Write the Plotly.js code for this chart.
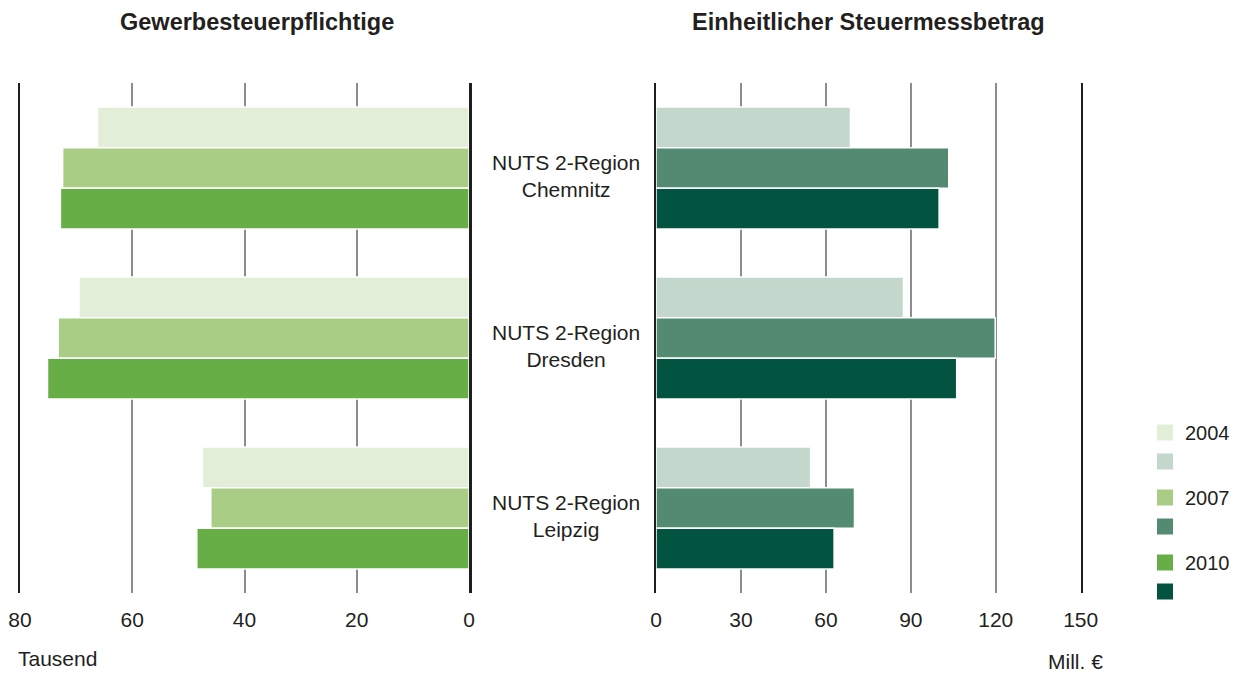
<!DOCTYPE html>
<html>
<head>
<meta charset="utf-8">
<script src="https://cdn.plot.ly/plotly-3.0.1.min.js"></script>
<style>
  html, body { margin: 0; padding: 0; background: #ffffff; }
  #chart { width: 1241px; height: 673px; }
</style>
</head>
<body>
<div id="chart"></div>
<script>
// ---- data ----
const regions = ['NUTS 2-Region Chemnitz', 'NUTS 2-Region Dresden', 'NUTS 2-Region Leipzig'];
const years = ['2004', '2007', '2010'];

// Gewerbesteuerpflichtige (Tausend)
const gewerbe2004 = [66.2, 69.5, 47.5];
const gewerbe2007 = [72.4, 73.2, 46.0];
const gewerbe2010 = [72.8, 75.1, 48.5];

// Einheitlicher Steuermessbetrag (Mill. €)
const mess2004 = [68.7, 87.4, 54.6];
const mess2007 = [103.4, 119.8, 70.1];
const mess2010 = [100.0, 106.2, 62.9];

const leftTicks = [80, 60, 40, 20, 0];
const rightTicks = [0, 30, 60, 90, 120, 150];

const leftTitle = 'Gewerbesteuerpflichtige';
const rightTitle = 'Einheitlicher Steuermessbetrag';
const leftUnit = 'Tausend';
const rightUnit = 'Mill. €';

// ---- styles ----
const greenColors = ['#e2eed8', '#a9cd84', '#67ae46'];
const tealColors = ['#c3d7cc', '#528b72', '#025441'];
const FONT = 'Liberation Sans, Arial, Helvetica, sans-serif';
const TXT = '#231f20';

const leftSeries = [gewerbe2004, gewerbe2007, gewerbe2010];
const rightSeries = [mess2004, mess2007, mess2010];

const traces = [];
years.forEach((yr, i) => {
  traces.push({
    type: 'bar', orientation: 'h', name: yr,
    x: leftSeries[i], y: regions,
    xaxis: 'x', yaxis: 'y',
    marker: { color: greenColors[i], line: { color: '#ffffff', width: 1.5 } },
    showlegend: false, hoverinfo: 'x+y'
  });
});
years.forEach((yr, i) => {
  traces.push({
    type: 'bar', orientation: 'h', name: yr,
    x: rightSeries[i], y: regions,
    xaxis: 'x2', yaxis: 'y2',
    marker: { color: tealColors[i], line: { color: '#ffffff', width: 1.5 } },
    showlegend: false, hoverinfo: 'x+y'
  });
});
// legend entries (no data of their own)
years.forEach((yr, i) => {
  traces.push({
    type: 'scatter', mode: 'markers', name: yr, legendgroup: yr,
    x: [null], y: [null], xaxis: 'x2', yaxis: 'y2',
    marker: { symbol: 'square', size: 17, color: greenColors[i], line: { width: 0 } },
    showlegend: true, hoverinfo: 'skip'
  });
  traces.push({
    type: 'scatter', mode: 'markers', name: ' ', legendgroup: yr,
    x: [null], y: [null], xaxis: 'x2', yaxis: 'y2',
    marker: { symbol: 'square', size: 17, color: tealColors[i], line: { width: 0 } },
    showlegend: true, hoverinfo: 'skip'
  });
});

const W = 1241, H = 673;
const px = v => v / W;
const py = v => 1 - v / H;

const yDomain = [py(593), py(83)];

const xCommon = {
  showgrid: true, gridcolor: '#8c8c8c', gridwidth: 2,
  zeroline: false, showline: false,
  ticks: 'outside', ticklen: 8, tickcolor: 'rgba(0,0,0,0)',
  tickfont: { family: FONT, size: 21, color: TXT },
  fixedrange: true, automargin: false
};
const yCommon = {
  type: 'category', range: [2.5, -0.5], domain: yDomain,
  showgrid: false, zeroline: false, showticklabels: false,
  showline: true, mirror: true, linecolor: '#1e1e1e', linewidth: 2.5,
  ticks: '', fixedrange: true, automargin: false
};

const annotations = [
  { text: '<b>' + leftTitle + '</b>', x: px(256.7), y: py(22), xref: 'paper', yref: 'paper',
    xanchor: 'center', yanchor: 'middle', showarrow: false, font: { family: FONT, size: 23.5, color: TXT } },
  { text: '<b>' + rightTitle + '</b>', x: px(868.3), y: py(22), xref: 'paper', yref: 'paper',
    xanchor: 'center', yanchor: 'middle', showarrow: false, font: { family: FONT, size: 23.5, color: TXT } },
  { text: leftUnit, x: px(16), y: py(658), xref: 'paper', yref: 'paper',
    xanchor: 'left', yanchor: 'middle', showarrow: false, font: { family: FONT, size: 21, color: TXT } },
  { text: rightUnit, x: px(1046), y: py(661), xref: 'paper', yref: 'paper',
    xanchor: 'left', yanchor: 'middle', showarrow: false, font: { family: FONT, size: 21, color: TXT } }
];
regions.forEach(r => {
  annotations.push({
    text: r.replace('Region ', 'Region<br>'), x: px(565.5), y: r, xref: 'paper', yref: 'y2',
    xanchor: 'center', yanchor: 'middle', yshift: -8, showarrow: false, align: 'center',
    font: { family: FONT, size: 21, color: TXT }
  });
});

const layout = {
  width: W, height: H,
  margin: { l: 0, r: 0, t: 0, b: 0, pad: 0 },
  paper_bgcolor: '#ffffff', plot_bgcolor: 'rgba(0,0,0,0)',
  barmode: 'group', bargap: 0.282, bargroupgap: 0,
  font: { family: FONT, size: 20, color: TXT },
  xaxis: Object.assign({}, xCommon, { domain: [px(20), px(469)], range: [80, 0], tickvals: leftTicks, anchor: 'y' }),
  yaxis: Object.assign({}, yCommon, { anchor: 'x' }),
  xaxis2: Object.assign({}, xCommon, { domain: [px(656), px(1080.7)], range: [0, 150], tickvals: rightTicks, anchor: 'y2' }),
  yaxis2: Object.assign({}, yCommon, { anchor: 'x2' }),
  showlegend: true,
  legend: {
    x: px(1145), y: py(413), xanchor: 'left', yanchor: 'top',
    traceorder: 'grouped', tracegroupgap: 7,
    bgcolor: 'rgba(0,0,0,0)', borderwidth: 0,
    font: { family: FONT, size: 20, color: TXT },
    itemclick: false, itemdoubleclick: false
  },
  annotations: annotations
};

Plotly.newPlot('chart', traces, layout, { displayModeBar: false, staticPlot: true });
</script>
</body>
</html>
